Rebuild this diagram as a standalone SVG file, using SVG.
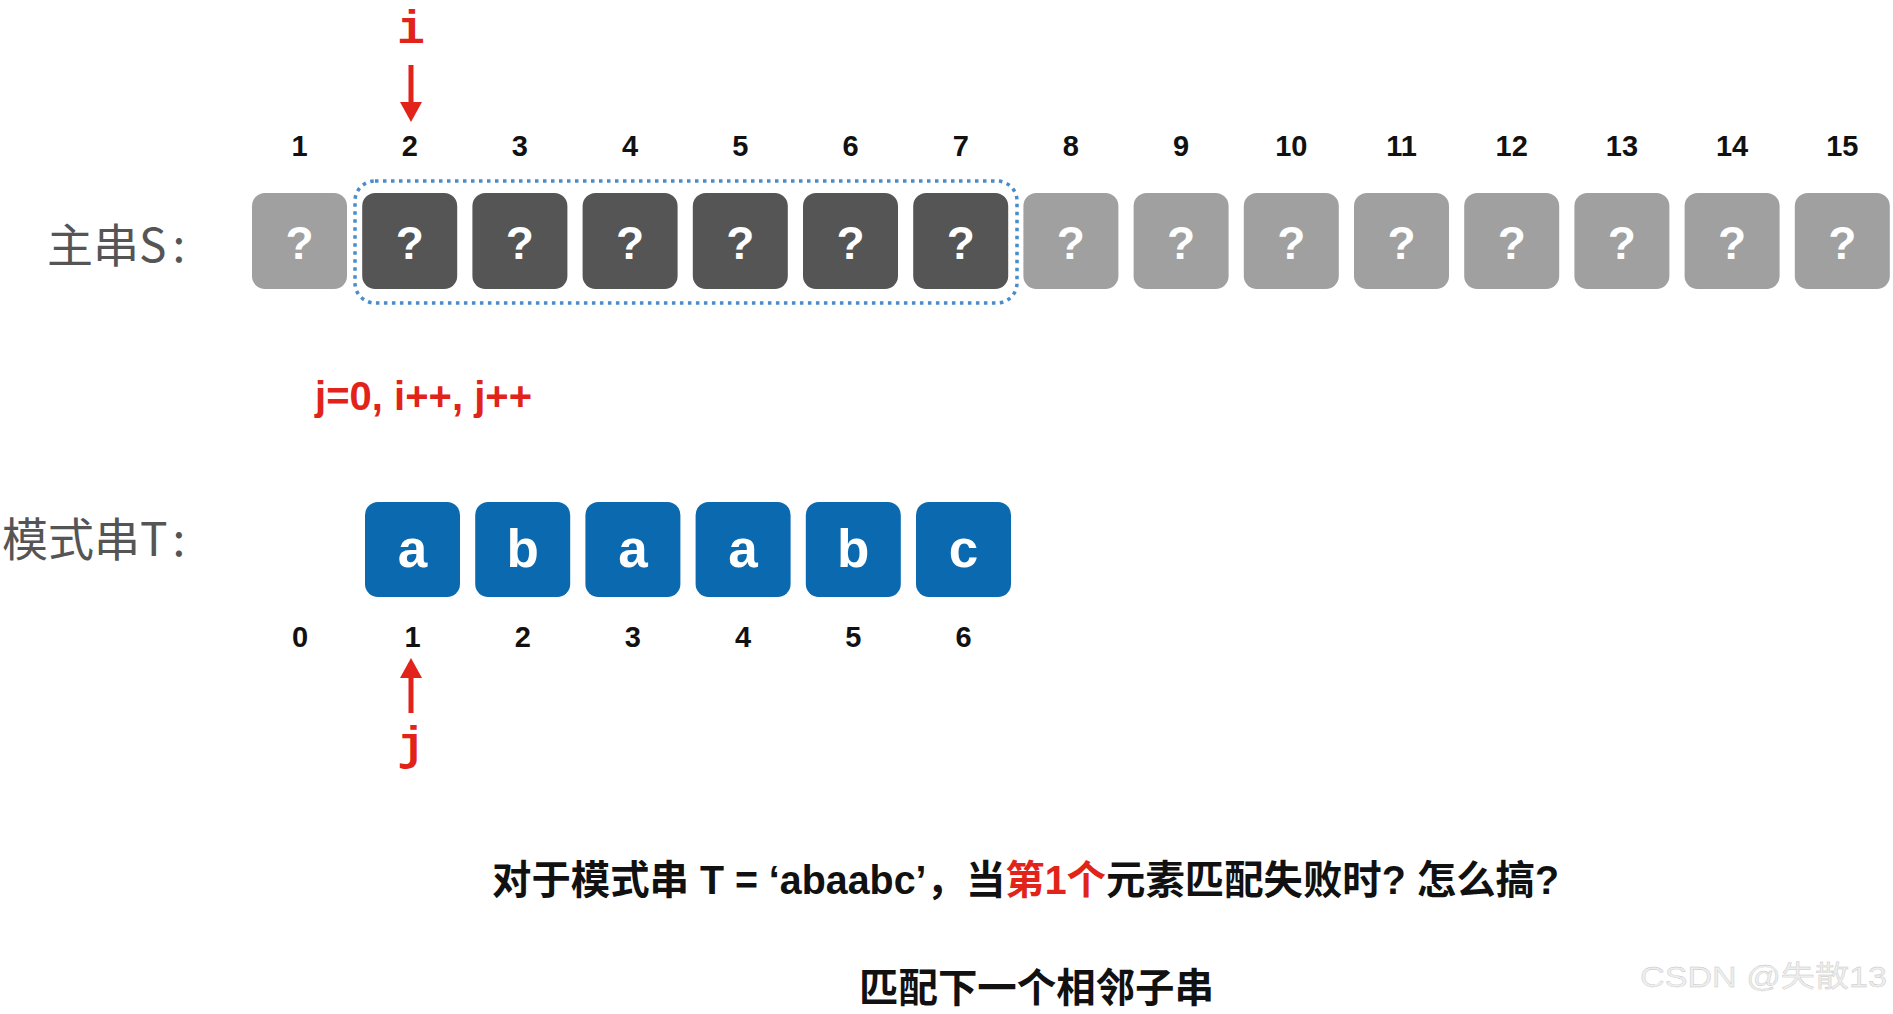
<svg xmlns="http://www.w3.org/2000/svg" width="1893" height="1014" viewBox="0 0 1893 1014">
<defs>
<style>
.bg{fill:#ffffff}
.sl{fill:#a0a0a0}
.sd{fill:#555555}
.pt{fill:#0a69af}
.q{font-family:"Liberation Sans",Arial,sans-serif;font-weight:bold;font-size:46px;fill:#ffffff;text-anchor:middle}
.pl{font-family:"Liberation Sans",Arial,sans-serif;font-weight:bold;font-size:53px;fill:#ffffff;text-anchor:middle}
.num{font-family:"Liberation Sans",Arial,sans-serif;font-weight:bold;font-size:29px;fill:#111111;text-anchor:middle}
.lab{font-family:"Noto Sans CJK SC",sans-serif;font-size:46px;fill:#555555}
.ptr{font-family:"Liberation Mono",monospace;font-weight:bold;font-size:46px;fill:#e2231a;text-anchor:middle}
.cap{font-family:"Liberation Sans","Noto Sans CJK SC",sans-serif;font-weight:bold;font-size:40px;fill:#111111}
.red{fill:#e2231a}
.arr{stroke:#e2231a;stroke-width:5;fill:none}
.sel{fill:none;stroke:#4a8cc9;stroke-width:3.5;stroke-dasharray:3.5 4.5}
.wm{font-family:"Liberation Sans","Noto Sans CJK SC",sans-serif;font-size:29px;fill:#eeeeee;stroke:#c4c4c4;stroke-width:0.35}
</style>
<marker id="ah" viewBox="0 0 20 22" refX="0" refY="11" markerWidth="20" markerHeight="22" markerUnits="userSpaceOnUse" orient="auto">
<path d="M0,0 L20,11 L0,22 z" fill="#e2231a"/>
</marker>
</defs>
<rect class="bg" x="0" y="0" width="1893" height="1014"/>

<g id="label-S"><text class="lab" x="47" y="262">主串S<tspan dx="6">:</tspan></text></g>
<g id="label-T"><text class="lab" x="2" y="556">模式串T<tspan dx="6">:</tspan></text></g>

<g id="main-indices">
<text class="num" x="299.5" y="156">1</text>
<text class="num" x="409.7" y="156">2</text>
<text class="num" x="519.9" y="156">3</text>
<text class="num" x="630.1" y="156">4</text>
<text class="num" x="740.3" y="156">5</text>
<text class="num" x="850.5" y="156">6</text>
<text class="num" x="960.7" y="156">7</text>
<text class="num" x="1070.9" y="156">8</text>
<text class="num" x="1181.1" y="156">9</text>
<text class="num" x="1291.3" y="156">10</text>
<text class="num" x="1401.5" y="156">11</text>
<text class="num" x="1511.7" y="156">12</text>
<text class="num" x="1621.9" y="156">13</text>
<text class="num" x="1732.1" y="156">14</text>
<text class="num" x="1842.3" y="156">15</text>
</g>

<g id="S1"><rect class="sl" x="252" y="193" width="95" height="96" rx="13"/><text class="q" x="299.5" y="259">?</text></g>
<g id="S2"><rect class="sd" x="362.2" y="193" width="95" height="96" rx="13"/><text class="q" x="409.7" y="259">?</text></g>
<g id="S3"><rect class="sd" x="472.4" y="193" width="95" height="96" rx="13"/><text class="q" x="519.9" y="259">?</text></g>
<g id="S4"><rect class="sd" x="582.6" y="193" width="95" height="96" rx="13"/><text class="q" x="630.1" y="259">?</text></g>
<g id="S5"><rect class="sd" x="692.8" y="193" width="95" height="96" rx="13"/><text class="q" x="740.3" y="259">?</text></g>
<g id="S6"><rect class="sd" x="803" y="193" width="95" height="96" rx="13"/><text class="q" x="850.5" y="259">?</text></g>
<g id="S7"><rect class="sd" x="913.2" y="193" width="95" height="96" rx="13"/><text class="q" x="960.7" y="259">?</text></g>
<g id="S8"><rect class="sl" x="1023.4" y="193" width="95" height="96" rx="13"/><text class="q" x="1070.9" y="259">?</text></g>
<g id="S9"><rect class="sl" x="1133.6" y="193" width="95" height="96" rx="13"/><text class="q" x="1181.1" y="259">?</text></g>
<g id="S10"><rect class="sl" x="1243.8" y="193" width="95" height="96" rx="13"/><text class="q" x="1291.3" y="259">?</text></g>
<g id="S11"><rect class="sl" x="1354" y="193" width="95" height="96" rx="13"/><text class="q" x="1401.5" y="259">?</text></g>
<g id="S12"><rect class="sl" x="1464.2" y="193" width="95" height="96" rx="13"/><text class="q" x="1511.7" y="259">?</text></g>
<g id="S13"><rect class="sl" x="1574.4" y="193" width="95" height="96" rx="13"/><text class="q" x="1621.9" y="259">?</text></g>
<g id="S14"><rect class="sl" x="1684.6" y="193" width="95" height="96" rx="13"/><text class="q" x="1732.1" y="259">?</text></g>
<g id="S15"><rect class="sl" x="1794.8" y="193" width="95" height="96" rx="13"/><text class="q" x="1842.3" y="259">?</text></g>

<g id="window"><rect class="sel" x="355" y="181" width="662" height="122" rx="20"/></g>

<g id="step-label"><text class="cap red" x="315" y="410" font-size="36" textLength="217" lengthAdjust="spacing">j=0, i++, j++</text></g>

<g id="T1"><rect class="pt" x="365" y="502" width="95" height="95" rx="13"/><text class="pl" x="412.5" y="567">a</text></g>
<g id="T2"><rect class="pt" x="475.2" y="502" width="95" height="95" rx="13"/><text class="pl" x="522.7" y="567">b</text></g>
<g id="T3"><rect class="pt" x="585.4" y="502" width="95" height="95" rx="13"/><text class="pl" x="632.9" y="567">a</text></g>
<g id="T4"><rect class="pt" x="695.6" y="502" width="95" height="95" rx="13"/><text class="pl" x="743.1" y="567">a</text></g>
<g id="T5"><rect class="pt" x="805.8" y="502" width="95" height="95" rx="13"/><text class="pl" x="853.3" y="567">b</text></g>
<g id="T6"><rect class="pt" x="916" y="502" width="95" height="95" rx="13"/><text class="pl" x="963.5" y="567">c</text></g>

<g id="pattern-indices">
<text class="num" x="300" y="647">0</text>
<text class="num" x="412.5" y="647">1</text>
<text class="num" x="522.7" y="647">2</text>
<text class="num" x="632.9" y="647">3</text>
<text class="num" x="743.1" y="647">4</text>
<text class="num" x="853.3" y="647">5</text>
<text class="num" x="963.5" y="647">6</text>
</g>

<g id="pointer-i"><text class="ptr" x="411" y="43">i</text></g>
<g id="pointer-j"><text class="ptr" x="411" y="759">j</text></g>

<g id="connectors">
<line class="arr" x1="411" y1="65" x2="411" y2="102" marker-end="url(#ah)"/>
<line class="arr" x1="411" y1="713" x2="411" y2="678" marker-end="url(#ah)"/>
</g>

<g id="question">
<text class="cap" x="492" y="894" textLength="1067" lengthAdjust="spacingAndGlyphs">对于模式串 T = ‘abaabc’，当<tspan class="red">第1个</tspan>元素匹配失败时? 怎么搞?</text>
</g>
<g id="answer">
<text class="cap" x="859" y="1002" font-size="42" textLength="355" lengthAdjust="spacingAndGlyphs">匹配下一个相邻子串</text>
</g>

<g id="watermark"><text class="wm" x="1640" y="987" textLength="247" lengthAdjust="spacingAndGlyphs">CSDN @失散13</text></g>
</svg>
